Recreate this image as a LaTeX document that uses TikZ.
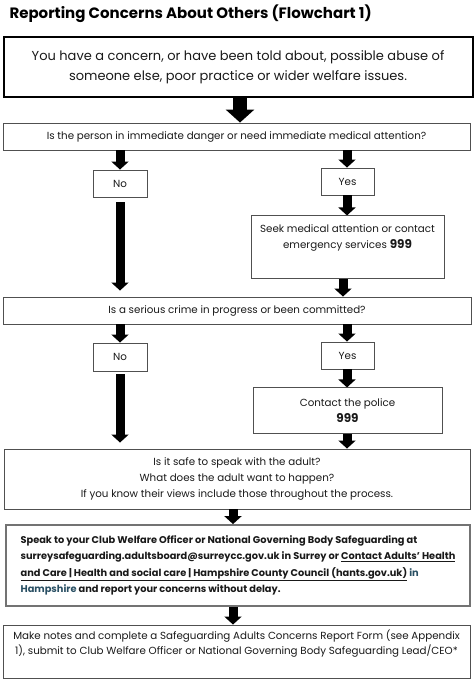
\documentclass[tikz,border=0pt]{standalone}
\usepackage{fontspec}
\setmainfont{Poppins}
\usetikzlibrary{positioning,arrows.meta}
\definecolor{boxgrey}{RGB}{80,80,80}
\definecolor{inkblack}{RGB}{25,25,25}
\definecolor{linkteal}{RGB}{40,78,98}
\def\hiteal{\textcolor{linkteal}}
\tikzset{flowbox/.style={rectangle, draw=boxgrey, line width=0.9pt, inner sep=0pt,
  align=center, text=inkblack, font=\fontsize{10.3}{16}\selectfont}}
\tikzset{keybox/.style={flowbox, draw=black, line width=2pt}}
\tikzset{choicebox/.style={flowbox, minimum width=54pt, minimum height=27pt}}
\tikzset{bigarrow/.style={line width=14pt, -{Triangle[width=28pt,length=13pt]}}}
\tikzset{smallarrow/.style={line width=9pt, -{Triangle[width=17pt,length=8pt]}}}

\begin{document}
\begin{tikzpicture}[x=1pt, y=-1pt, node distance=18pt]
  \useasboundingbox (0,0) rectangle (474,682);
  \coordinate (colL) at (120,0);
  \coordinate (colR) at (347,0);
  \coordinate (colM) at (233,0);

  \node[anchor=west, font=\fontsize{15}{18}\bfseries\selectfont] (title) at (6,14)
    {Reporting Concerns About Others (Flowchart 1)};
  \node[keybox, minimum width=469pt, minimum height=60pt, font=\fontsize{13}{20}\selectfont] (concern) at (238,67)
    {You have a concern, or have been told about, possible abuse of\\ someone else, poor practice or wider welfare issues.};
  \node[flowbox, minimum width=467pt, minimum height=27pt] (danger) at (236.5,136.5)
    {Is the person in immediate danger or need immediate medical attention?};
  \node[choicebox] (noA) at (120,183.5) {No};
  \node[choicebox, minimum width=53pt] (yesA) at (347.5,181.5) {Yes};
  \node[flowbox, minimum width=193pt, minimum height=63pt, below=20pt of yesA] (seek)
    {Seek medical attention or contact\\ emergency services \textbf{\large 999}\\ \strut};
  \node[flowbox, minimum width=468pt, minimum height=27pt] (crime) at (237,310.5)
    {Is a serious crime in progress or been committed?};
  \node[choicebox, minimum height=28pt] (noB) at (120,357) {No};
  \node[choicebox, minimum width=53pt] (yesB) at (347.5,355.5) {Yes};
  \node[flowbox, minimum width=189pt, minimum height=46pt, below=18pt of yesB] (police)
    {Contact the police\\ \textbf{\large 999}};
  \node[flowbox, minimum width=466pt, minimum height=60pt] (adult) at (237,479)
    {Is it safe to speak with the adult?\\ What does the adult want to happen?\\
     If you know their views include those throughout the process.};
  \node[flowbox, draw=boxgrey!80, line width=1.8pt, minimum width=464pt, minimum height=81pt,
    align=left, font=\fontsize{9.8}{16.5}\bfseries\selectfont] (speak) at (238,565.5)
    {Speak to your Club Welfare Officer or National Governing Body Safeguarding at\\
     surreysafeguarding.adultsboard@surreycc.gov.uk in Surrey or \underline{Contact Adults' Health}\\
     \underline{and Care | Health and social care | Hampshire County Council (hants.gov.uk)} \hiteal{in}\\
     \hiteal{Hampshire} and report your concerns without delay.};
  \node[flowbox, minimum width=467pt, minimum height=53pt, font=\fontsize{10.3}{15}\selectfont] (notes) at (236.5,651.5)
    {Make notes and complete a Safeguarding Adults Concerns Report Form (see Appendix\\
     1), submit to Club Welfare Officer or National Governing Body Safeguarding Lead/CEO*\\ \strut};

  \draw[bigarrow] (concern.south -| 240,0) -- (danger.north -| 240,0);
  \draw[smallarrow] (danger.south -| colL) -- (noA.north -| colL);
  \draw[smallarrow] (danger.south -| colR) -- (yesA.north -| colR);
  \draw[smallarrow] (yesA.south -| colR) -- (seek.north -| colR);
  \draw[smallarrow, shorten <=5pt, shorten >=6pt] (noA.south -| colL) -- (crime.north -| colL);
  \draw[smallarrow] (seek.south -| 343,0) -- (crime.north -| 343,0);
  \draw[smallarrow] (crime.south -| colL) -- (noB.north -| colL);
  \draw[smallarrow] (crime.south -| colR) -- (yesB.north -| colR);
  \draw[smallarrow] (yesB.south -| colR) -- (police.north -| colR);
  \draw[smallarrow, shorten <=3pt, shorten >=6pt] (noB.south -| colL) -- (adult.north -| colL);
  \draw[smallarrow] (police.south -| colR) -- (adult.north -| colR);
  \draw[smallarrow] (adult.south -| colM) -- (speak.north -| colM);
  \draw[smallarrow] (speak.south -| colM) -- (notes.north -| colM);
\end{tikzpicture}
\end{document}
